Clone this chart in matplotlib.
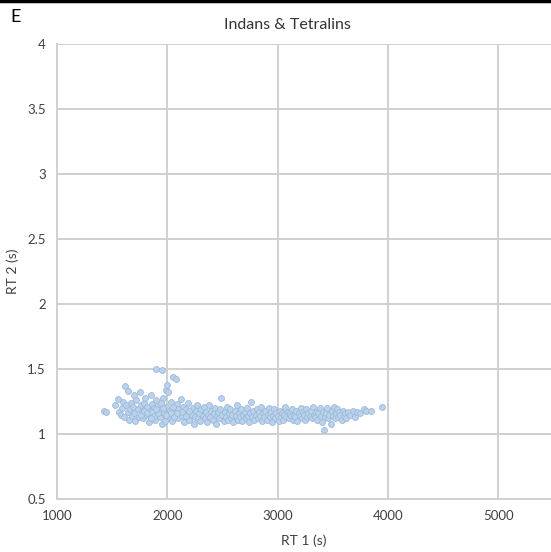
import matplotlib.pyplot as plt
import matplotlib.lines as mlines

# retention times
rt1 = [1430, 1440, 1530, 1550, 1560, 1580, 1590, 1600, 1610, 1620, 1630, 1640, 1645, 1650,
       1660, 1670, 1680, 1690, 1700, 1700, 1710, 1720,
       1730, 1740, 1750, 1760, 1770, 1780, 1790, 1800, 1800, 1810, 1820, 1830, 1840, 1850,
       1860, 1870, 1880, 1890, 1900, 1900, 1910, 1920, 1930, 1940, 1950, 1950, 1960, 1970,
       1985, 1990, 2000, 2000,
       2010, 2020, 2030, 2040, 2050, 2060, 2070, 2080, 2090, 2100, 2110, 2120, 2130, 2140,
       2150, 2160, 2170, 2180, 2190, 2200, 2210, 2220, 2230, 2240, 2250, 2260, 2270, 2280, 2290,
       2300, 2310, 2320, 2330, 2340, 2350, 2360, 2370, 2380, 2390, 2400, 2410, 2420, 2430,
       2440, 2450, 2460, 2470, 2480, 2490, 2500, 2510, 2520, 2530, 2540, 2550, 2560, 2570,
       2580, 2590, 2600, 2610, 2620, 2630, 2640, 2650, 2660, 2670, 2680, 2690,
       2700, 2710, 2720, 2730, 2740, 2750, 2760, 2770, 2780, 2790, 2800, 2810, 2820, 2830,
       2840, 2850, 2860, 2870, 2880, 2890, 2900, 2910, 2920, 2930, 2940, 2950, 2960, 2970,
       2980, 2990, 3000, 3010, 3020, 3030, 3040, 3050, 3060, 3070, 3080, 3090,
       3100, 3110, 3120, 3130, 3140, 3150, 3160, 3170, 3180, 3190, 3200, 3210, 3220, 3230,
       3240, 3250, 3260, 3270, 3280, 3290, 3300, 3310, 3320, 3330, 3340, 3350, 3360, 3370,
       3380, 3390, 3400, 3410, 3420, 3430, 3440, 3450, 3460, 3470, 3480, 3490,
       3500, 3510, 3520, 3530, 3540, 3550, 3560, 3570, 3580, 3590, 3600, 3610, 3620, 3640,
       3660, 3680, 3700, 3720, 3750, 3780, 3800, 3850, 3950,
       1760, 1790, 1820, 1860, 1880, 1920, 1960, 1990, 2030, 2060, 2100, 2130, 2170, 2200,
       1850, 1900, 1940, 1980, 2050, 2090]
rt2 = [1.18, 1.17, 1.22, 1.27, 1.17, 1.15, 1.20, 1.25, 1.13, 1.37, 1.22, 1.33, 1.17, 1.11,
       1.19, 1.24, 1.14, 1.21, 1.30, 1.16, 1.10, 1.26,
       1.19, 1.13, 1.32, 1.22, 1.17, 1.12, 1.24, 1.28, 1.19, 1.15, 1.21, 1.09, 1.18, 1.30,
       1.23, 1.14, 1.20, 1.11, 1.50, 1.26, 1.17, 1.22, 1.13, 1.19, 1.49, 1.08, 1.28, 1.16,
       1.34, 1.21, 1.38, 1.12,
       1.32, 1.18, 1.25, 1.10, 1.44, 1.20, 1.15, 1.42, 1.23, 1.12, 1.18, 1.27, 1.14, 1.21,
       1.09, 1.16, 1.19, 1.13, 1.24, 1.11, 1.17, 1.15, 1.20, 1.08, 1.13, 1.18, 1.22, 1.12, 1.16,
       1.10, 1.19, 1.14, 1.21, 1.12, 1.17, 1.09, 1.15, 1.22, 1.13, 1.18, 1.11, 1.16, 1.20,
       1.08, 1.14, 1.17, 1.12, 1.19, 1.28, 1.15, 1.10, 1.17, 1.13, 1.21, 1.11, 1.16, 1.19,
       1.12, 1.15, 1.09, 1.18, 1.14, 1.22, 1.11, 1.16, 1.13, 1.19, 1.10, 1.15,
       1.17, 1.12, 1.20, 1.14, 1.09, 1.16, 1.25, 1.13, 1.18, 1.11, 1.15, 1.19, 1.12, 1.17,
       1.14, 1.21, 1.10, 1.16, 1.13, 1.18, 1.11, 1.15, 1.20, 1.13, 1.17, 1.09, 1.14, 1.19,
       1.12, 1.16, 1.14, 1.10, 1.18, 1.13, 1.16, 1.11, 1.15, 1.21, 1.13, 1.17,
       1.12, 1.16, 1.14, 1.19, 1.11, 1.15, 1.13, 1.18, 1.10, 1.16, 1.14, 1.20, 1.12, 1.17,
       1.15, 1.11, 1.19, 1.13, 1.16, 1.14, 1.18, 1.12, 1.21, 1.15, 1.13, 1.17, 1.11, 1.16,
       1.20, 1.14, 1.09, 1.17, 1.03, 1.13, 1.16, 1.20, 1.12, 1.15, 1.08, 1.18,
       1.14, 1.21, 1.12, 1.16, 1.19, 1.13, 1.17, 1.15, 1.11, 1.18, 1.14, 1.16, 1.12, 1.17,
       1.15, 1.18, 1.13, 1.17, 1.16, 1.19, 1.18, 1.18, 1.21,
       1.15, 1.18, 1.16, 1.17, 1.14, 1.16, 1.20, 1.15, 1.16, 1.13, 1.19, 1.17, 1.14, 1.18,
       1.12, 1.19, 1.24, 1.10, 1.21, 1.16]

xticks = [1000, 2000, 3000, 4000, 5000]
yticks = [0.5, 1, 1.5, 2, 2.5, 3, 3.5, 4]
ytick_labels = ["0.5", "1", "1.5", "2", "2.5", "3", "3.5", "4"]

plt.rcParams['font.family'] = ['Lato', 'DejaVu Sans']

fig = plt.figure(figsize=(5.51, 5.52), dpi=100)
ax = fig.add_axes([57 / 551, 1 - 499 / 552, 1 - 57 / 551, (499 - 44) / 552])

grid_col = "#d0d0d0"
ax.scatter(rt1, rt2, s=18, color="#b7d3f0", edgecolors="#a0b8d4", linewidths=0.6, zorder=3)

ax.set_xlim(1000, 1000 + (551 - 57) / 110.3 * 1000)
ax.set_ylim(0.5, 4)
ax.set_xticks(xticks)
ax.set_yticks(yticks)
ax.set_yticklabels(ytick_labels)
ax.grid(True, color=grid_col, linewidth=1.4)
ax.set_axisbelow(True)
for side in ["top", "right"]:
    ax.spines[side].set_visible(False)
for side in ["left", "bottom"]:
    ax.spines[side].set_color(grid_col)
    ax.spines[side].set_linewidth(1.4)
ax.tick_params(length=0, labelsize=9.5, colors="#404040", pad=8)

ax.set_xlabel("RT 1 (s)", fontsize=10, color="#404040", labelpad=9)
ax.set_ylabel("RT 2 (s)", fontsize=10, color="#404040", labelpad=6)
fig.text(287 / 551, 1 - 25 / 552, "Indans & Tetralins", ha="center", va="center",
         fontsize=11.5, color="#333333")
fig.text(10 / 551, 1 - 17 / 552, "E", ha="left", va="center", fontsize=13, color="black")
fig.add_artist(mlines.Line2D([0, 1], [0.998, 0.998], color="black", linewidth=2.5,
                             transform=fig.transFigure))

fig.savefig("out.png", dpi=100)
